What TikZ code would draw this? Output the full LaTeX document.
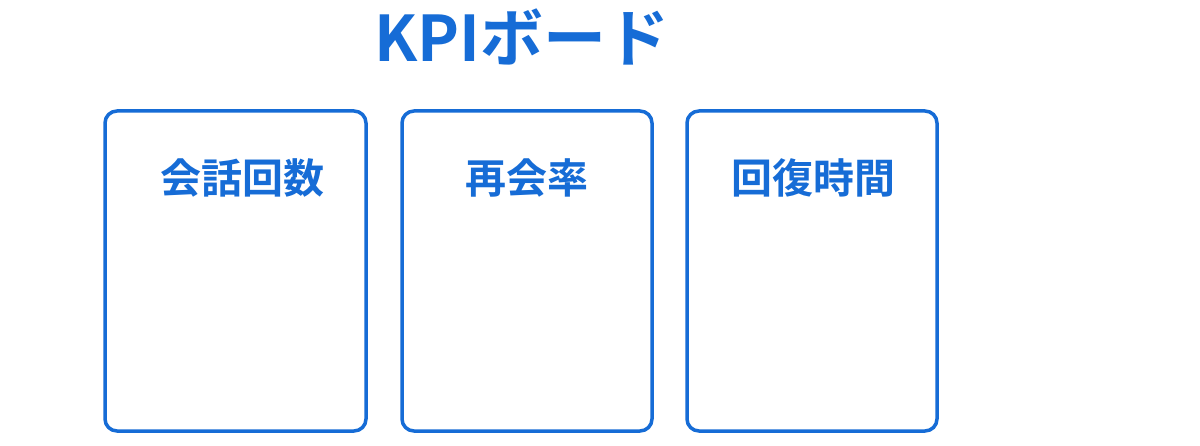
\documentclass[tikz,border=0pt]{standalone}
\usepackage{fontspec}
\newfontfamily\cjkb{Noto Sans CJK JP}[BoldFont={* Bold}]
\definecolor{kpiblue}{RGB}{22,108,214}
\begin{document}
\begin{tikzpicture}[x=1pt,y=-1pt]
\tikzset{
  card/.style={draw=kpiblue, line width=3.5pt, rounded corners=12pt, fill=white},
  lbl/.style={text=kpiblue, font=\cjkb\bfseries\fontsize{41}{44}\selectfont, inner sep=0pt},
  ttl/.style={text=kpiblue, font=\cjkb\bfseries\fontsize{63}{70}\selectfont, inner sep=0pt}
}
\useasboundingbox[fill=white] (0,0) rectangle (1200,446);
\node[ttl] (title) at (522,37) {KPIボード};
\draw[card] (105,111) rectangle (366,431);
\draw[card] (402,111) rectangle (652,431);
\draw[card] (687,111) rectangle (937,431);
\node[lbl] (a) at (242,178) {会話回数};
\node[lbl] (b) at (527,178) {再会率};
\node[lbl] (c) at (813,178) {回復時間};
\end{tikzpicture}
\end{document}
